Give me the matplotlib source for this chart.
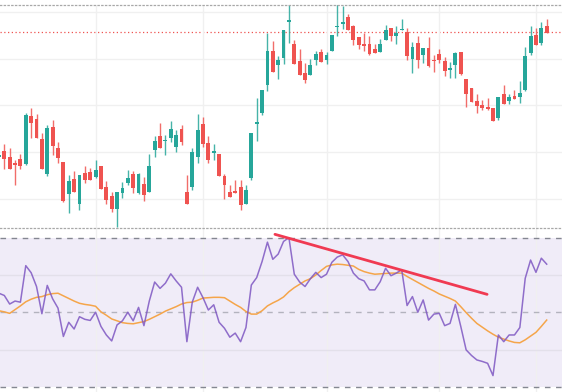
"""
Candlestick chart with RSI pane below (recreated from screenshot).
"""

import numpy as np
import matplotlib
matplotlib.use('Agg')
import matplotlib.pyplot as plt


# ============================================================
# DATA
# ============================================================
opens = [219.0, 220.2, 219.1, 217.7, 218.5, 217.5, 227.8, 227.1, 222.8, 215.5,
         225.4, 221.0, 218.0, 211.1, 214.3, 209.1, 215.7, 215.8, 214.8, 217.0,
         212.6, 210.7, 207.9, 211.4, 213.4, 215.5, 211.3, 213.3, 211.5, 220.5,
         223.6, 222.4, 223.0, 221.2, 225.0, 211.6, 212.7, 219.0, 226.0, 221.9,
         219.9, 219.7, 215.0, 211.6, 211.8, 212.6, 209.1, 214.6, 226.1, 228.3,
         234.4, 241.6, 238.6, 240.2, 247.8, 243.0, 239.4, 236.9, 236.4, 239.6,
         241.4, 239.7, 241.7, 246.7, 247.4, 248.9, 247.0, 244.5, 243.0, 243.0,
         242.1, 241.3, 244.0, 246.5, 244.8, 246.0, 245.7, 240.0, 243.3, 240.8,
         242.2, 239.6, 240.9, 239.5, 237.6, 238.7, 241.4, 235.6, 233.8, 231.0,
         230.2, 229.7, 229.4, 227.4, 232.5, 231.0, 232.0, 231.8, 233.3, 241.1,
         245.1, 243.4, 247.0]
highs = [219.8, 221.8, 220.9, 218.4, 219.7, 228.3, 229.4, 228.1, 224.1, 225.9,
         226.8, 222.2, 218.0, 215.1, 216.1, 215.1, 217.0, 216.6, 218.4, 217.2,
         213.9, 211.6, 211.5, 213.6, 216.3, 216.0, 215.7, 214.7, 219.7, 223.4,
         226.2, 223.7, 226.6, 224.8, 225.9, 215.2, 220.9, 228.2, 227.6, 223.4,
         221.8, 219.7, 215.4, 213.1, 214.1, 214.1, 213.1, 224.1, 231.5, 233.2,
         245.5, 243.8, 240.6, 246.0, 252.5, 244.0, 242.1, 239.1, 239.9, 241.6,
         242.1, 241.3, 245.0, 252.0, 251.1, 249.5, 247.2, 244.5, 245.4, 244.8,
         243.0, 244.1, 247.2, 246.5, 247.0, 248.4, 246.6, 243.5, 244.8, 242.2,
         244.5, 240.7, 242.1, 240.4, 239.2, 241.3, 241.4, 235.6, 233.8, 232.4,
         231.2, 231.5, 229.4, 231.9, 234.4, 232.5, 233.2, 235.2, 242.5, 247.0,
         246.6, 247.7, 248.4]
lows = [218.7, 216.4, 216.4, 213.1, 216.4, 217.3, 223.0, 223.0, 216.4, 215.0,
        219.4, 217.8, 209.4, 207.0, 211.5, 207.7, 213.5, 214.1, 214.6, 212.3,
        209.1, 207.4, 204.2, 210.2, 213.0, 211.3, 211.1, 209.6, 211.5, 219.1,
        220.9, 219.4, 222.3, 220.0, 221.6, 209.0, 212.1, 217.7, 221.2, 217.8,
        218.4, 215.0, 210.1, 210.4, 211.4, 207.7, 209.0, 214.1, 222.4, 228.0,
        233.1, 237.2, 235.7, 238.9, 243.4, 238.9, 236.4, 234.7, 236.4, 238.6,
        239.2, 238.9, 241.7, 244.8, 246.2, 246.0, 242.8, 242.0, 241.5, 240.8,
        241.1, 241.3, 244.0, 243.8, 243.0, 246.0, 239.7, 237.0, 237.9, 239.1,
        238.1, 237.2, 239.1, 236.2, 235.8, 235.9, 236.4, 229.6, 230.8, 228.5,
        229.0, 229.0, 226.7, 226.8, 230.3, 230.3, 231.3, 230.6, 233.0, 240.8,
        242.8, 242.8, 245.5]
closes = [219.4, 218.5, 216.4, 217.3, 217.0, 228.0, 226.2, 223.0, 216.4, 225.2,
          221.4, 218.9, 209.6, 213.9, 211.6, 215.1, 214.1, 214.1, 216.3, 212.3,
          209.9, 207.9, 211.5, 212.5, 214.6, 212.5, 215.5, 211.0, 217.1, 222.4,
          220.9, 222.7, 225.0, 223.7, 222.3, 209.1, 220.1, 224.8, 221.8, 218.4,
          220.3, 215.0, 213.1, 210.4, 211.4, 208.8, 212.0, 224.1, 226.5, 233.2,
          241.6, 237.2, 239.7, 246.0, 248.1, 238.9, 236.4, 235.4, 238.6, 240.9,
          239.2, 240.8, 245.0, 247.0, 247.8, 246.0, 244.0, 242.9, 242.7, 241.0,
          241.1, 243.0, 246.0, 244.8, 245.5, 246.3, 240.6, 242.4, 239.7, 242.2,
          238.5, 239.4, 239.6, 237.4, 238.0, 241.1, 236.7, 232.4, 230.8, 229.9,
          229.5, 229.3, 226.7, 231.9, 230.4, 231.7, 231.3, 232.7, 240.6, 244.9,
          242.8, 246.4, 245.5]

rsi = [55.1, 54.5, 52.2, 53.0, 52.7, 62.5, 60.6, 56.9, 49.6, 57.2,
       53.6, 51.1, 43.5, 47.3, 45.5, 48.8, 48.1, 47.8, 50.0, 46.2,
       43.9, 42.3, 46.6, 47.7, 50.0, 47.7, 51.3, 46.4, 53.0, 58.1,
       56.4, 57.8, 60.3, 58.4, 56.7, 42.1, 52.7, 56.7, 53.9, 50.6,
       52.0, 47.3, 45.7, 43.3, 44.4, 42.1, 45.9, 57.3, 59.3, 63.6,
       68.8, 64.2, 65.6, 69.0, 70.0, 60.2, 58.1, 56.9, 59.0, 60.7,
       59.3, 60.2, 63.4, 64.8, 65.4, 63.6, 60.5, 59.0, 58.4, 56.0,
       56.0, 58.2, 61.8, 59.8, 60.5, 61.4, 51.8, 54.2, 50.0, 53.3,
       47.9, 49.5, 49.7, 46.4, 47.0, 52.1, 46.2, 39.9, 38.4, 37.2,
       36.8, 36.3, 33.0, 43.9, 42.1, 43.9, 43.9, 45.9, 59.1, 64.0,
       60.7, 64.5, 62.9]
rsi_ma = [50.4, 50.1, 49.7, 50.7, 51.7, 52.8, 53.5, 54.0, 54.2, 54.7,
          55.0, 55.1, 54.4, 53.7, 53.0, 52.4, 52.1, 51.9, 51.6, 50.1,
          49.2, 48.2, 47.7, 47.2, 47.0, 46.9, 47.2, 47.5, 48.1, 48.8,
          49.5, 50.3, 50.9, 51.5, 52.2, 52.6, 52.7, 53.2, 53.8, 53.9,
          54.0, 54.0, 53.9, 53.0, 52.1, 51.3, 50.2, 49.5, 49.5, 50.4,
          51.7, 52.5, 53.2, 54.1, 55.5, 56.6, 57.5, 58.4, 59.0, 60.0,
          61.2, 62.3, 62.7, 62.9, 62.8, 62.6, 62.4, 61.5, 60.9, 60.5,
          60.2, 60.3, 60.4, 60.5, 60.5, 60.5, 59.6, 58.8, 58.0, 57.2,
          56.4, 55.7, 54.9, 54.3, 53.7, 53.0, 51.5, 49.9, 48.4, 47.0,
          46.0, 45.0, 44.1, 43.3, 42.8, 42.3, 41.9, 41.8, 42.6, 43.6,
          44.6, 46.2, 47.9]

# month boundaries (vertical grid), price grid levels, alert level
month_idx = [18, 38, 61, 82, 100]
price_levels = [210, 220, 230, 240, 250]
alert_price = 245.7

# trend line drawn on RSI (bar index, rsi value)
trend_x = [51.4, 90.9]
trend_y = [70.9, 54.8]

# ============================================================
# STYLE
# ============================================================
UP = '#26a69a'
DOWN = '#ef5350'
GRID = '#f0f0f0'
RSI_COLOR = '#7e57c2'
MA_COLOR = '#f5a54a'
TREND_COLOR = '#f03a52'
W, H = 562, 392


def draw_candles(ax):
    o = np.array(opens)
    h = np.array(highs)
    l = np.array(lows)
    c = np.array(closes)
    x = np.arange(len(o))
    colors = np.where(c >= o, UP, DOWN)

    ax.vlines(x, l, h, colors=colors, linewidth=1.0, alpha=0.85, zorder=2)
    bottom = np.minimum(o, c)
    height = np.maximum(np.abs(c - o), 0.2)
    ax.bar(x, height, bottom=bottom, width=0.72, color=colors,
           linewidth=0, zorder=3)

    ax.axhline(alert_price, color=DOWN, linestyle=(0, (1, 2)),
               linewidth=0.9, zorder=1)


def setup_axes(ax):
    ax.set_xlim(0.2, 104.85)
    ax.set_xticks(month_idx)
    ax.tick_params(length=0, labelbottom=False, labelleft=False)
    ax.grid(axis='x', color=GRID, linewidth=1.0, zorder=0)
    ax.spines['left'].set_visible(False)
    ax.spines['right'].set_visible(False)


def main():
    fig = plt.figure(figsize=(W / 100, H / 100), dpi=100)

    # RSI pane (added first so the price pane separator stays on top)
    ax2 = fig.add_axes([0, 0, 1, 164 / H])
    setup_axes(ax2)
    ax2.patch.set_visible(False)
    ax2.spines['top'].set_visible(False)
    ax2.spines['bottom'].set_visible(False)
    ax2.set_ylim(28.6, 72.6)
    ax2.set_yticks([40, 60])
    ax2.grid(axis='y', color='#e3e0ea', linewidth=1.0, zorder=0)
    ax2.axhspan(30, 70, color=RSI_COLOR, alpha=0.11, linewidth=0, zorder=0)
    ax2.axhline(70, color='#787b86', linestyle=(0, (4, 4)), linewidth=1.0, alpha=0.9)
    ax2.axhline(30, color='#787b86', linestyle=(0, (4, 4)), linewidth=1.0, alpha=0.9)
    ax2.axhline(50, color='#787b86', linestyle=(0, (4, 4)), linewidth=1.0, alpha=0.5)

    x = np.arange(len(rsi))
    ax2.plot(x, rsi_ma, color=MA_COLOR, linewidth=1.1, zorder=3)
    ax2.plot(x, rsi, color=RSI_COLOR, linewidth=1.1, alpha=0.85, zorder=4)
    ax2.plot(trend_x, trend_y, color=TREND_COLOR, linewidth=2.0,
             solid_capstyle='round', zorder=5)

    # price pane
    ax = fig.add_axes([0, 1 - 228 / H, 1, 223 / H])
    setup_axes(ax)
    ax.patch.set_visible(False)
    ax.set_ylim(203.9, 251.4)
    ax.set_yticks(price_levels)
    ax.grid(axis='y', color=GRID, linewidth=1.0, zorder=0)
    for side in ('top', 'bottom'):
        ax.spines[side].set_linestyle((0, (1, 2)))
        ax.spines[side].set_color('#a8a8a8')
        ax.spines[side].set_linewidth(0.9)
    draw_candles(ax)

    fig.savefig('out.png', dpi=100, facecolor='white')
    plt.close(fig)


if __name__ == '__main__':
    main()
